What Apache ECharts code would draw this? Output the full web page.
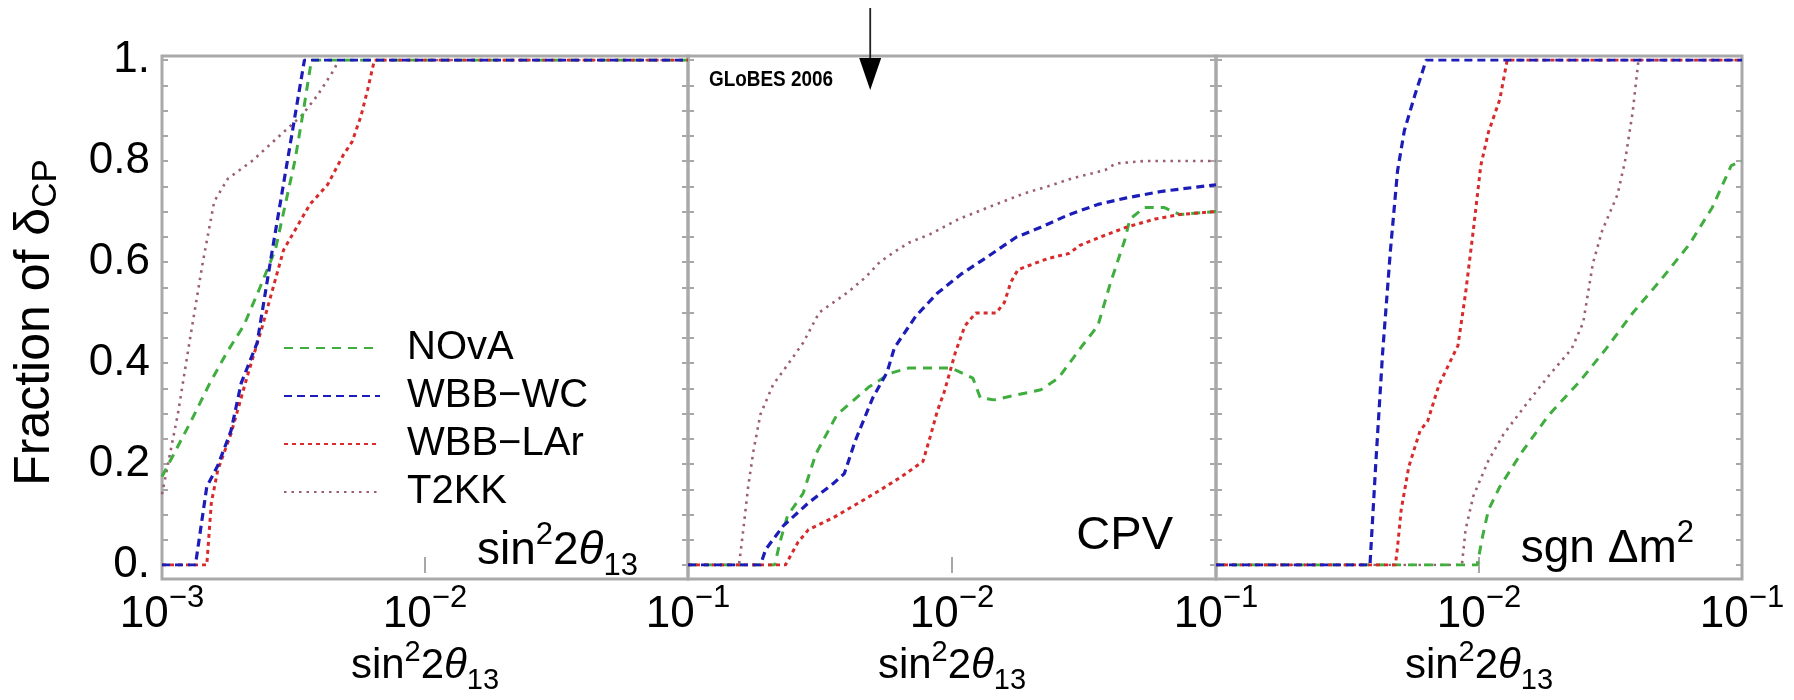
<!DOCTYPE html>
<html><head><meta charset="utf-8">
<script src="https://cdn.jsdelivr.net/npm/echarts@6/dist/echarts.min.js"></script>
<style>html,body{margin:0;padding:0;background:#fff}#c{width:1794px;height:700px}</style>
</head><body><div id="c"></div>
<script>
// ---------------- data ----------------
const seriesNames = ['NOvA', 'WBB\u2212WC', 'WBB\u2212LAr', 'T2KK'];
const xMin = 0.001, xMax = 0.1;
const yTickLabels = {0: '0.', 20: '0.2', 40: '0.4', 60: '0.6', 80: '0.8', 100: '1.'};
const arrowValue = 0.0049;   // position of the arrow in the middle panel

// panel 1 : sin^2 2theta13 discovery
const p1NOvA = [[0.001,0.175],[0.00129,0.285],[0.00152,0.36],[0.00176,0.42],[0.00205,0.475],[0.00236,0.55],[0.0027,0.625],[0.0032,0.80],[0.00345,0.90],[0.0037,1],[0.1,1]];
const p1WC   = [[0.001,0],[0.00134,0],[0.00148,0.155],[0.00163,0.197],[0.00183,0.266],[0.002,0.36],[0.0023,0.44],[0.00262,0.62],[0.00302,0.81],[0.00348,1],[0.1,1]];
const p1LAr  = [[0.001,0],[0.00148,0],[0.00154,0.123],[0.00163,0.188],[0.00183,0.26],[0.0021,0.37],[0.0024,0.47],[0.0029,0.624],[0.00365,0.714],[0.00426,0.753],[0.00488,0.811],[0.00528,0.838],[0.00571,0.889],[0.00605,0.941],[0.00642,1],[0.1,1]];
const p1T2KK = [[0.001,0.14],[0.00115,0.3],[0.00128,0.45],[0.00143,0.6],[0.00158,0.72],[0.00178,0.765],[0.0022,0.8],[0.0028,0.85],[0.0034,0.89],[0.0039,0.93],[0.0045,0.98],[0.0047,1],[0.1,1]];

// panel 2 : CPV
const p2NOvA = [[0.001,0],[0.00213,0],[0.00223,0.045],[0.00238,0.097],[0.00273,0.142],[0.00305,0.22],[0.00367,0.298],[0.00486,0.353],[0.00586,0.38],[0.00685,0.39],[0.00996,0.39],[0.012,0.37],[0.0128,0.331],[0.0144,0.327],[0.0217,0.347],[0.0253,0.37],[0.0305,0.428],[0.0357,0.474],[0.0398,0.558],[0.0451,0.643],[0.0472,0.685],[0.0535,0.708],[0.0635,0.708],[0.0731,0.694],[0.1,0.70]];
const p2WC   = [[0.001,0],[0.00188,0],[0.00197,0.031],[0.0023,0.078],[0.00286,0.123],[0.00356,0.162],[0.00391,0.181],[0.0043,0.246],[0.00501,0.331],[0.00568,0.382],[0.00605,0.43],[0.0073,0.493],[0.00879,0.538],[0.0109,0.577],[0.0136,0.61],[0.0175,0.649],[0.0217,0.669],[0.0278,0.694],[0.0357,0.714],[0.0458,0.727],[0.0625,0.74],[0.1,0.753]];
const p2LAr  = [[0.001,0],[0.00234,0],[0.00245,0.019],[0.00261,0.045],[0.00286,0.07],[0.00356,0.094],[0.00443,0.123],[0.00533,0.148],[0.00644,0.175],[0.00776,0.205],[0.00826,0.253],[0.00879,0.304],[0.00935,0.343],[0.0103,0.421],[0.0112,0.474],[0.0123,0.499],[0.0147,0.499],[0.0158,0.52],[0.0167,0.56],[0.0178,0.585],[0.0231,0.607],[0.0278,0.617],[0.0305,0.633],[0.038,0.653],[0.0458,0.669],[0.0587,0.685],[0.0731,0.694],[0.1,0.70]];
const p2T2KK = [[0.001,0],[0.00156,0],[0.00161,0.058],[0.00169,0.155],[0.00177,0.226],[0.00188,0.298],[0.0021,0.357],[0.00238,0.396],[0.00273,0.44],[0.00314,0.5],[0.00367,0.525],[0.00403,0.54],[0.00471,0.57],[0.00533,0.6],[0.00605,0.62],[0.00685,0.638],[0.00826,0.655],[0.0106,0.685],[0.014,0.71],[0.0186,0.735],[0.0231,0.75],[0.0287,0.766],[0.038,0.782],[0.0417,0.795],[0.0535,0.80],[0.1,0.80]];

// panel 3 : sgn Delta m^2
const p3NOvA = [[0.001,0],[0.00984,0],[0.01033,0.058],[0.01086,0.109],[0.012,0.155],[0.01466,0.226],[0.0185,0.298],[0.0241,0.363],[0.0304,0.428],[0.0384,0.499],[0.0492,0.565],[0.0631,0.635],[0.0771,0.708],[0.091,0.791],[0.1,0.80]];
const p3WC   = [[0.001,0],[0.00385,0],[0.00405,0.2],[0.0043,0.42],[0.0046,0.62],[0.0049,0.78],[0.0052,0.86],[0.0057,0.93],[0.0063,1],[0.1,1]];
const p3LAr  = [[0.001,0],[0.00481,0],[0.00489,0.031],[0.00506,0.109],[0.00541,0.195],[0.00597,0.266],[0.00638,0.285],[0.00705,0.357],[0.00832,0.435],[0.00889,0.538],[0.00951,0.662],[0.01016,0.791],[0.01086,0.857],[0.012,0.922],[0.0128,1],[0.1,1]];
const p3T2KK = [[0.001,0],[0.00861,0],[0.00889,0.07],[0.00951,0.136],[0.01086,0.207],[0.0124,0.259],[0.0151,0.318],[0.0185,0.376],[0.0225,0.428],[0.0249,0.48],[0.0271,0.597],[0.0294,0.662],[0.0336,0.733],[0.0359,0.799],[0.0384,0.897],[0.0404,1],[0.1,1]];

// ---------------- layout / style ----------------
const FONT = '"Liberation Sans", Arial, Helvetica, sans-serif';
const panelData = [
  [p1NOvA, p1WC, p1LAr, p1T2KK],
  [p2NOvA, p2WC, p2LAr, p2T2KK],
  [p3NOvA, p3WC, p3LAr, p3T2KK]
];
const styles = [
  {color: '#3fae3f', width: 3,   type: [9, 7]},
  {color: '#1c1cb8', width: 3.2, type: [8, 5]},
  {color: '#d82a2a', width: 3,   type: [4, 4]},
  {color: '#9a5f73', width: 2.6, type: [2.5, 5]}
];
const drawOrder = [3, 0, 2, 1];
const GL = [162, 688, 1216], GW = [526, 528, 526];
const GTOP = 60, GH = 513;

function sinRich(F) {
  const s = Math.round(F * 0.68);
  return {
    a: {fontSize: F, lineHeight: Math.round(F * 1.35), verticalAlign: 'middle', fontFamily: FONT, color: '#000'},
    t: {fontSize: F, lineHeight: Math.round(F * 1.35), verticalAlign: 'middle', fontFamily: FONT, fontStyle: 'italic', color: '#000'},
    p: {fontSize: s, lineHeight: s, verticalAlign: 'top', fontFamily: FONT, color: '#000'},
    b: {fontSize: s, lineHeight: s, verticalAlign: 'bottom', fontFamily: FONT, color: '#000'}
  };
}
const sinText = '{a|sin}{p|2}{a|2}{t|\u03b8}{b|13}';

const grid = [], xAxis = [], yAxis = [], series = [];
for (let i = 0; i < 3; i++) {
  grid.push({left: GL[i], top: GTOP, width: GW[i], height: GH, containLabel: false});
  xAxis.push({
    type: 'log', logBase: 10, gridIndex: i, min: xMin, max: xMax,
    axisLine: {show: false}, splitLine: {show: false},
    axisTick: {show: true, inside: true, length: 8, lineStyle: {color: '#8a8a8a', width: 1.5}},
    axisLabel: {
      margin: 18,
      formatter: function (v) {
        const e = Math.round(Math.log10(v));
        if (i > 0 && e === -3) return '';
        return '{a|10}{s|\u2212' + (-e) + '}';
      },
      rich: {
        a: {fontSize: 44, lineHeight: 64, verticalAlign: 'middle', fontFamily: FONT, color: '#000'},
        s: {fontSize: 31, lineHeight: 31, verticalAlign: 'top', fontFamily: FONT, color: '#000'}
      }
    },
    name: sinText, nameLocation: 'middle', nameGap: 73, nameMoveOverlap: false,
    nameTextStyle: {rich: sinRich(42)}
  });
  yAxis.push({
    type: 'value', gridIndex: i, min: 0, max: 1, interval: 0.05,
    axisLine: {show: false}, splitLine: {show: false},
    axisTick: {show: true, inside: true, length: 6, lineStyle: {color: '#8a8a8a', width: 1.5}},
    axisLabel: {
      show: i === 0, margin: 12, fontSize: 44, fontFamily: FONT, color: '#000',
      padding: [0, 0, 12, 0],
      formatter: function (v) {
        const k = Math.round(v * 100);
        return (k % 20 === 0 && yTickLabels[k] !== undefined) ? yTickLabels[k] : '';
      }
    },
    name: i === 0 ? '{a|Fraction of \u03b4}{b|CP}' : '',
    nameLocation: 'middle', nameGap: 98, nameRotate: 90, nameMoveOverlap: false,
    nameTextStyle: {padding: [0, 20, 0, 0], rich: {
      a: {fontSize: 50, lineHeight: 58, verticalAlign: 'middle', fontFamily: FONT, color: '#000'},
      b: {fontSize: 35, lineHeight: 35, verticalAlign: 'bottom', fontFamily: FONT, color: '#000'}
    }}
  });
}
for (let i = 0; i < 3; i++) {
  xAxis.push({
    type: 'log', logBase: 10, gridIndex: i, min: xMin, max: xMax, position: 'top',
    axisLine: {show: false}, splitLine: {show: false}, axisLabel: {show: false},
    axisTick: {show: true, inside: true, length: 8, lineStyle: {color: '#8a8a8a', width: 1.5}}
  });
  yAxis.push({
    type: 'value', gridIndex: i, min: 0, max: 1, interval: 0.05, position: 'right',
    axisLine: {show: false}, splitLine: {show: false}, axisLabel: {show: false},
    axisTick: {show: true, inside: true, length: 6, lineStyle: {color: '#8a8a8a', width: 1.5}}
  });
}
for (let i = 0; i < 3; i++) {
  drawOrder.forEach(function (k) {
    const st = styles[k];
    series.push({
      type: 'line', name: seriesNames[k], xAxisIndex: i, yAxisIndex: i,
      data: panelData[i][k], symbol: 'none', showSymbol: false, silent: true,
      color: st.color,
      lineStyle: {color: st.color, width: st.width, type: st.type, cap: 'butt'},
      z: 3 + drawOrder.indexOf(k)
    });
  });
}

const chart = echarts.init(document.getElementById('c'), null, {renderer: 'canvas'});
chart.setOption({
  animation: false,
  backgroundColor: '#fff',
  textStyle: {fontFamily: FONT},
  grid: grid, xAxis: xAxis, yAxis: yAxis, series: series,
  legend: {
    data: seriesNames, orient: 'vertical', left: 278, top: 319,
    itemWidth: 96, itemHeight: 14, itemGap: 0, selectedMode: false,
    itemStyle: {opacity: 0, borderWidth: 0},
    formatter: function (n) { return '{g| }' + n; },
    textStyle: {fontSize: 40, lineHeight: 48, color: '#000', fontFamily: FONT,
      rich: {g: {width: 22, fontSize: 40, lineHeight: 48}}}
  }
});

// annotations (frames, in-panel labels, arrow)
const ax = chart.convertToPixel({xAxisIndex: 1}, arrowValue);
const graphic = [];
for (let i = 0; i < 3; i++) {
  graphic.push({type: 'rect', silent: true, z: 1,
    shape: {x: GL[i], y: GTOP - 4, width: GW[i], height: GH + 10},
    style: {fill: null, stroke: '#a9a9a9', lineWidth: 3}});
}
graphic.push({type: 'text', silent: true, z: 20,
  style: {x: 638, y: 582, align: 'right', verticalAlign: 'bottom', text: sinText, rich: sinRich(46)}});
graphic.push({type: 'text', silent: true, z: 20,
  style: {x: 1173, y: 536, align: 'right', verticalAlign: 'middle', text: 'CPV',
    fontSize: 47, fontFamily: FONT, fill: '#000'}});
graphic.push({type: 'text', silent: true, z: 20,
  style: {x: 1694, y: 580, align: 'right', verticalAlign: 'bottom', text: '{a|sgn \u0394m}{p|2}',
    rich: sinRich(46)}});
graphic.push({type: 'text', silent: true, z: 20, x: 709, y: 69, scaleX: 0.86, scaleY: 1,
  style: {x: 0, y: 0, align: 'left', verticalAlign: 'top', text: 'GLoBES 2006',
    fontSize: 22, fontWeight: 'bold', fontFamily: FONT, fill: '#000'}});
graphic.push({type: 'line', silent: true, z: 20,
  shape: {x1: ax, y1: 8, x2: ax, y2: 62}, style: {stroke: '#222', lineWidth: 1.8}});
graphic.push({type: 'polygon', silent: true, z: 20,
  shape: {points: [[ax - 11, 58], [ax + 11, 58], [ax, 90]]}, style: {fill: '#000'}});
chart.setOption({graphic: graphic});
</script>
</body></html>
